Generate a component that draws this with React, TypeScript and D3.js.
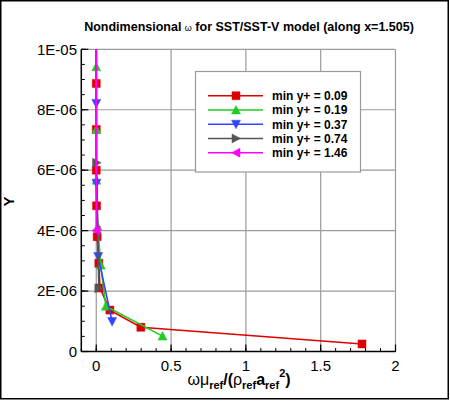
import React from "react";
import * as d3 from "d3";

const seriesNames = ["min y+ = 0.09", "min y+ = 0.19", "min y+ = 0.37", "min y+ = 0.74", "min y+ = 1.46"];
const seriesColors = ["#dd0000", "#22cc22", "#3344ff", "#555555", "#ff00ff"];
const seriesShapes = ["square", "up", "down", "right", "left"];

// x: nondimensional omega, y: wall distance (units of 1E-06)
const redX = [0, 0, 0, 0, 0.002, 0.006, 0.017, 0.025, 0.091, 0.298, 1.776];
const redY = [10.5, 8.87, 7.35, 6.0, 4.82, 3.8, 2.92, 2.1, 1.37, 0.8, 0.25];
const greenX = [0, 0, 0, 0.001, 0.01, 0.03, 0.064, 0.443];
const greenY = [11.6, 9.42, 7.35, 5.67, 4.13, 2.86, 1.5, 0.51];
const blueX = [0, 0, 0.001, 0.013, 0.106];
const blueY = [11.1, 8.21, 5.57, 3.14, 0.99];
const grayX = [0, 0.002, 0.017];
const grayY = [14.5, 6.25, 2.09];
const magentaX = [0, 0];
const magentaY = [12.3, 4.0];

const xTickValues = [0, 0.5, 1, 1.5, 2];
const xTickLabels = ["0", "0.5", "1", "1.5", "2"];
const yTickValues = [0, 2e-6, 4e-6, 6e-6, 8e-6, 1e-5];
const yTickLabels = ["0", "2E-06", "4E-06", "6E-06", "8E-06", "1E-05"];

const allX = [redX, greenX, blueX, grayX, magentaX];
const allY = [redY, greenY, blueY, grayY, magentaY];

function markerPath(shape: string, cx: number, cy: number, s: number) {
  const h = s / 2;
  switch (shape) {
    case "square":
      return `M${cx - h},${cy - h}h${s}v${s}h${-s}Z`;
    case "up":
      return `M${cx},${cy - h - 0.5}L${cx + h + 0.5},${cy + h}L${cx - h - 0.5},${cy + h}Z`;
    case "down":
      return `M${cx},${cy + h + 0.5}L${cx + h + 0.5},${cy - h}L${cx - h - 0.5},${cy - h}Z`;
    case "right":
      return `M${cx + h + 0.5},${cy}L${cx - h},${cy - h - 0.5}L${cx - h},${cy + h + 0.5}Z`;
    case "left":
    default:
      return `M${cx - h - 0.5},${cy}L${cx + h},${cy - h - 0.5}L${cx + h},${cy + h + 0.5}Z`;
  }
}

export default function App() {
  const W = 450, H = 401;
  const left = 81.3, right = 395.5, top = 49.3, bottom = 351.5;
  const x = d3.scaleLinear().domain([-0.1, 2]).range([left, right]);
  const y = d3.scaleLinear().domain([0, 1e-5]).range([bottom, top]);
  const font = "'Liberation Sans', Arial, Helvetica, sans-serif";

  const line = d3
    .line<[number, number]>()
    .x((d) => x(d[0]))
    .y((d) => y(d[1] * 1e-6));

  const xMinor = x.ticks(21);
  const yMinor = d3.range(0, 1e-5 + 1e-12, 5e-7);

  return (
    <svg
      width={W}
      height={H}
      style={{ position: "absolute", left: 0, top: 0, background: "#fff" }}
      fontFamily={font}
    >
      <defs>
        <clipPath id="plotclip">
          <rect x={left} y={top} width={right - left} height={bottom - top} />
        </clipPath>
      </defs>
      <rect x={0} y={0} width={W} height={H} fill="#fff" />
      <rect x={0.75} y={0.75} width={447.5} height={398} fill="none" stroke="#000" strokeWidth={1.5} />

      {/* grid */}
      {xTickValues.map((v) => (
        <line key={"gx" + v} x1={x(v)} x2={x(v)} y1={top} y2={bottom} stroke="#9a9a9a" strokeWidth={1.2} />
      ))}
      {yTickValues.map((v) => (
        <line key={"gy" + v} x1={left} x2={right} y1={y(v)} y2={y(v)} stroke="#9a9a9a" strokeWidth={1.2} />
      ))}

      {/* ticks */}
      {xMinor.map((v, i) => (
        <line key={"xm" + i} x1={x(v)} x2={x(v)} y1={bottom} y2={bottom - 3.5} stroke="#000" strokeWidth={1} />
      ))}
      {xTickValues.map((v) => (
        <line key={"xM" + v} x1={x(v)} x2={x(v)} y1={bottom} y2={bottom - 7} stroke="#000" strokeWidth={1.2} />
      ))}
      {yMinor.map((v, i) => (
        <line key={"ym" + i} x1={left} x2={left + 3.5} y1={y(v)} y2={y(v)} stroke="#000" strokeWidth={1} />
      ))}
      {yTickValues.map((v) => (
        <line key={"yM" + v} x1={left} x2={left + 7} y1={y(v)} y2={y(v)} stroke="#000" strokeWidth={1.2} />
      ))}

      {/* axes */}
      <line x1={left} x2={left} y1={top} y2={bottom} stroke="#000" strokeWidth={1.5} />
      <line x1={left} x2={right} y1={bottom} y2={bottom} stroke="#000" strokeWidth={1.5} />

      {/* tick labels */}
      {xTickValues.map((v, i) => (
        <text key={"xl" + v} x={x(v)} y={371} textAnchor="middle" fontSize={15}>
          {xTickLabels[i]}
        </text>
      ))}
      {yTickValues.map((v, i) => (
        <text key={"yl" + v} x={77} y={y(v) + 5.3} textAnchor="end" fontSize={15}>
          {yTickLabels[i]}
        </text>
      ))}

      {/* data */}
      <g clipPath="url(#plotclip)">
        {allX.map((xs, si) => {
          const pts: [number, number][] = xs.map((xv, j) => [xv, allY[si][j]]);
          return (
            <g key={"s" + si}>
              <path d={line(pts) || ""} fill="none" stroke={seriesColors[si]} strokeWidth={1.6} />
              {pts.map((p, j) => (
                <path
                  key={j}
                  d={markerPath(seriesShapes[si], x(p[0]), y(p[1] * 1e-6), 8)}
                  fill={seriesColors[si]}
                  stroke={seriesColors[si]}
                  strokeWidth={0.5}
                />
              ))}
            </g>
          );
        })}
      </g>

      {/* legend */}
      <rect x={195.5} y={71.5} width={165} height={100.5} fill="#fff" stroke="#999" strokeWidth={1.2} />
      {seriesNames.map((name, i) => {
        const cy = 95.7 + i * 14.25;
        return (
          <g key={"lg" + i}>
            <line x1={208} x2={263} y1={cy} y2={cy} stroke={seriesColors[i]} strokeWidth={1.6} />
            <path d={markerPath(seriesShapes[i], 236, cy, 8)} fill={seriesColors[i]} stroke={seriesColors[i]} strokeWidth={0.5} />
            <text x={272} y={cy + 4.3} fontSize={12} fontWeight="bold">
              {name}
            </text>
          </g>
        );
      })}

      {/* title */}
      <text x={249} y={31} textAnchor="middle" fontSize={12.5} fontWeight="bold">
        Nondimensional <tspan fontSize={9} fontWeight="normal">ω</tspan> for SST/SST-V model (along x=1.505)
      </text>

      {/* axis labels */}
      <text x={239} y={385} textAnchor="middle" fontSize={16}>
        <tspan>ωμ</tspan>
        <tspan fontSize={11} fontWeight="bold" dy={4}>ref</tspan>
        <tspan fontWeight="bold" dy={-4}>/(</tspan>
        <tspan>ρ</tspan>
        <tspan fontSize={11} fontWeight="bold" dy={4}>ref</tspan>
        <tspan fontWeight="bold" dy={-4}>a</tspan>
        <tspan fontSize={11} fontWeight="bold" dy={4}>ref</tspan>
        <tspan fontSize={11} fontWeight="bold" dy={-12}>2</tspan>
        <tspan fontWeight="bold" dy={8}>)</tspan>
      </text>
      <text
        transform={`translate(14,201.5) rotate(-90)`}
        textAnchor="middle"
        fontSize={15}
        fontWeight="bold"
      >
        Y
      </text>
    </svg>
  );
}
